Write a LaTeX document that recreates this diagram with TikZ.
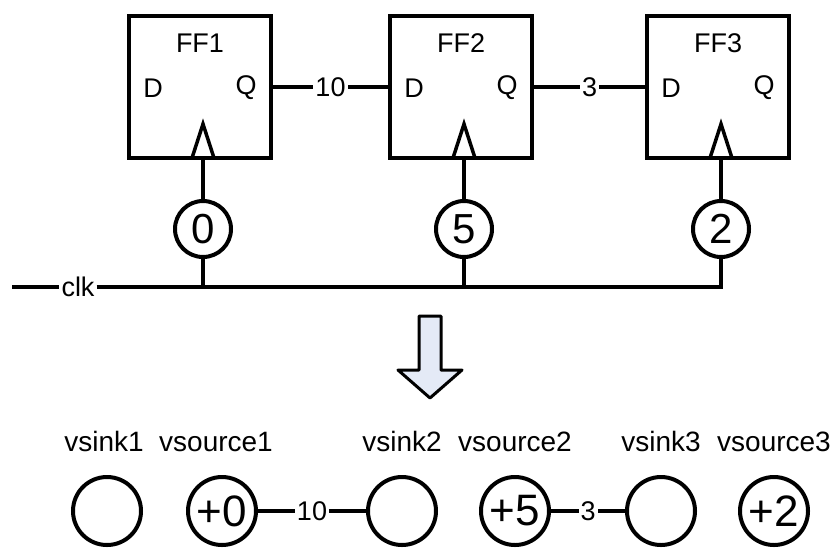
\documentclass[tikz,border=0pt]{standalone}
\usepackage{fontspec}
\setmainfont{Liberation Sans}
\usetikzlibrary{positioning}

\definecolor{arrowfill}{RGB}{228,234,246}

\tikzset{
  wire/.style={line width=4pt},
  ffbox/.style={draw,line width=4pt,minimum width=142pt,minimum height=142pt,inner sep=0pt,outer sep=0pt},
  delay/.style={draw,circle,line width=4pt,minimum size=56pt,inner sep=0pt,font=\fontsize{42}{42}\selectfont},
  vnode/.style={draw,circle,line width=4pt,minimum size=68pt,inner sep=0pt,font=\fontsize{44}{44}\selectfont},
  lbl/.style={inner sep=2pt,font=\fontsize{27}{30}\selectfont},
  vlbl/.style={inner sep=2pt,font=\fontsize{28}{30}\selectfont},
  wlabel/.style={fill=white,inner sep=2pt,font=\fontsize{27}{30}\selectfont}
}

\begin{document}
\begin{tikzpicture}[x=1pt,y=-1pt]
  \useasboundingbox (0,0) rectangle (834,550);

  % flip-flops with their clock delays
  \foreach \i/\x/\d in {1/200/0,2/461/5,3/718/2} {
    \node [ffbox] (ff\i) at (\x,87) {};
    \node [lbl] (ff\i title) at ([yshift=-27pt]ff\i.north) {FF\i};
    \node [lbl] (ff\i d) at ([xshift=24pt,yshift=-1pt]ff\i.west) {D};
    \node [lbl] (ff\i q) at ([xshift=-25pt,yshift=-1pt]ff\i.east) {Q};
    \coordinate (ck\i) at ([xshift=3pt]ff\i.south);
    \draw [line width=3.5pt]
      ([xshift=-11pt]ck\i)
      -- ([yshift=34pt]ck\i)
      -- ([xshift=11pt]ck\i)
    ;
    \node [delay] (dl\i) at ([yshift=-71pt]ck\i) {\d};
    \draw [wire] (ck\i) -- (dl\i);
  }

  \draw [wire]
    (ff1.east)
    -- node [wlabel] {10}
    (ff2.west)
  ;
  \draw [wire]
    (ff2.east)
    -- node [wlabel] {3}
    (ff3.west)
  ;

  % clock net
  \coordinate (clkin) at (12,287);
  \node [lbl] (clk) at (78,287) {clk};
  \draw [wire] (clkin) -- (clk);
  \draw [wire]
    (clk)
    -- (dl3 |- clkin)
    -- (dl3)
  ;
  \draw [wire] (dl1) -- (dl1 |- clkin);
  \draw [wire] (dl2) -- (dl2 |- clkin);

  % transform arrow
  \coordinate (tip) at (430,398);
  \draw [line width=3pt,fill=arrowfill,line join=round]
    (tip)
    -- ++(-32,-28)
    -- ++(21,0)
    -- ++(0,-54)
    -- ++(22,0)
    -- ++(0,54)
    -- ++(21,0)
    -- cycle
  ;

  % sink/source vertices
  \node [vnode] (snk1) at (107,511) {};
  \node [vnode] (src1) at (222,511) {+0};
  \node [vnode] (snk2) at (402,511) {};
  \node [vnode] (src2) at (515,511) {+5};
  \node [vnode] (snk3) at (661,511) {};
  \node [vnode] (src3) at (774,511) {+2};

  \node [vlbl,above=21pt of snk1,xshift=-3pt] (snk1 lbl) {vsink1};
  \node [vlbl,above=21pt of src1,xshift=-6pt] (src1 lbl) {vsource1};
  \node [vlbl,above=21pt of snk2] (snk2 lbl) {vsink2};
  \node [vlbl,above=21pt of src2] (src2 lbl) {vsource2};
  \node [vlbl,above=21pt of snk3] (snk3 lbl) {vsink3};
  \node [vlbl,above=21pt of src3] (src3 lbl) {vsource3};

  \draw [wire]
    (src1)
    -- node [wlabel] {10}
    (snk2)
  ;
  \draw [wire]
    (src2)
    -- node [wlabel] {3}
    (snk3)
  ;
\end{tikzpicture}
\end{document}
